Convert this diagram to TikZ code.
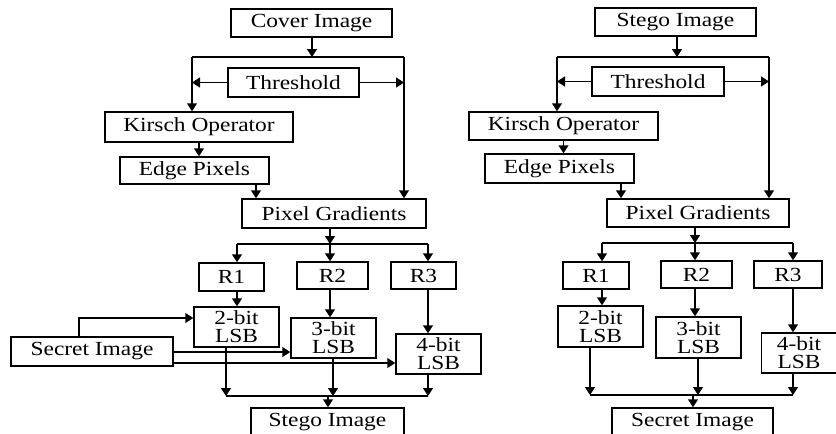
\documentclass[tikz,border=0pt]{standalone}
\usepackage{fontspec}
\setmainfont[FakeStretch=1.17]{Liberation Serif}
\usetikzlibrary{arrows.meta}
\begin{document}
\begin{tikzpicture}[x=1pt,y=-1pt,
  box/.style={draw, line width=1.5pt, inner sep=0pt, align=center,
    font=\fontsize{20}{18}\selectfont},
  arr/.style={-{Triangle[width=10pt,length=8pt]}, line width=1.5pt},
  ln/.style={line width=1.5pt}]
\useasboundingbox (0,0) rectangle (836,434);
% ---------------- left diagram ----------------
\node[box, minimum width=161pt, minimum height=28pt] (cov) at (311.5,23) {Cover Image};
\node[box, minimum width=131pt, minimum height=29pt] (thr) at (293.5,82.5) {Threshold};
\node[box, minimum width=188pt, minimum height=30pt] (kir) at (199,127) {Kirsch Operator};
\node[box, minimum width=149pt, minimum height=27pt] (edg) at (194.5,170.5) {Edge Pixels};
\node[box, minimum width=184pt, minimum height=29pt] (pg) at (334,213.5) {Pixel Gradients};
\node[box, minimum width=65pt, minimum height=28pt] (r1) at (231.5,277) {R1};
\node[box, minimum width=71pt, minimum height=27pt] (r2) at (332.5,275.5) {R2};
\node[box, minimum width=65pt, minimum height=27pt] (r3) at (423.5,275.5) {R3};
\node[box, minimum width=85pt, minimum height=40pt] (b2) at (236.5,327) {2-bit\\LSB};
\node[box, minimum width=85pt, minimum height=40pt] (b3) at (333.5,338) {3-bit\\LSB};
\node[box, minimum width=85pt, minimum height=40pt] (b4) at (438.5,354) {4-bit\\LSB};
\node[box, minimum width=162pt, minimum height=29pt] (sec) at (92,351.5) {Secret Image};
\node[box, minimum width=153pt, minimum height=29pt] (stg) at (327.5,422.5) {Stego Image};

\coordinate (j1) at (312,57);
\coordinate (jl) at (192,57);
\coordinate (jr) at (404,57);
\draw[arr] (cov.south -| j1) -- (j1);
\draw[ln] (jl) -- (jr);
\draw[arr] (jl) -- (jl |- kir.north);
\draw[arr] (jr) -- (jr |- pg.north);
\draw[arr] (thr.west) -- (thr.west -| jl);
\draw[arr] (thr.east) -- (thr.east -| jr);
\draw[arr] (kir.south) -- (kir.south |- edg.north);
\draw[arr] ([xshift=61.5pt]edg.south) -- ([xshift=61.5pt]edg.south |- pg.north);

\coordinate (j2) at (330,244);
\coordinate (ja) at (237,244);
\coordinate (jb) at (428,244);
\draw[arr] (pg.south -| j2) -- (j2);
\draw[ln] (ja) -- (jb);
\draw[arr] (ja) -- (ja |- r1.north);
\draw[arr] (j2) -- (j2 |- r2.north);
\draw[arr] (jb) -- (jb |- r3.north);
\draw[arr] (r1.south -| ja) -- (b2.north -| ja);
\draw[arr] (r2.south -| j2) -- (b3.north -| j2);
\draw[arr] (r3.south -| jb) -- (b4.north -| jb);

\coordinate (s1) at (79,318);
\coordinate (s2) at (173,352);
\coordinate (s3) at (173,363);
\draw[arr] (sec.north -| s1) -- (s1) -- (b2.west |- s1);
\draw[arr] (sec.east |- s2) -- (b3.west |- s2);
\draw[arr] (sec.east |- s3) -- (b4.west |- s3);

\coordinate (k1) at (226,396);
\coordinate (k2) at (333,396);
\coordinate (k3) at (428,396);
\coordinate (k0) at (328,396);
\draw[arr] (b2.south -| k1) -- (k1);
\draw[arr] (b3.south -| k2) -- (k2);
\draw[arr] (b4.south -| k3) -- (k3);
\draw[ln] (k1) -- (k3);
\draw[arr] (k0) -- (k0 |- stg.north);

% ---------------- right diagram ----------------
\node[box, minimum width=161pt, minimum height=28pt] (cov2) at (675.5,22) {Stego Image};
\node[box, minimum width=132pt, minimum height=29pt] (thr2) at (658,81.5) {Threshold};
\node[box, minimum width=189pt, minimum height=28pt] (kir2) at (563.5,126) {Kirsch Operator};
\node[box, minimum width=149pt, minimum height=29pt] (edg2) at (559.5,168.5) {Edge Pixels};
\node[box, minimum width=182pt, minimum height=28pt] (pg2) at (698,213) {Pixel Gradients};
\node[box, minimum width=66pt, minimum height=27pt] (q1) at (596,275.5) {R1};
\node[box, minimum width=71pt, minimum height=27pt] (q2) at (696.5,274.5) {R2};
\node[box, minimum width=68pt, minimum height=27pt] (q3) at (788,274.5) {R3};
\node[box, minimum width=85pt, minimum height=41pt] (c2) at (600.5,326.5) {2-bit\\LSB};
\node[box, minimum width=85pt, minimum height=41pt] (c3) at (698.5,337.5) {3-bit\\LSB};
\node[box, minimum width=75pt, minimum height=40pt] (c4) at (799,353) {4-bit\\LSB};
\node[box, minimum width=161pt, minimum height=29pt] (sec2) at (692.5,422.5) {Secret Image};

\coordinate (m1) at (677,57);
\coordinate (ml) at (557,57);
\coordinate (mr) at (769,57);
\draw[arr] (cov2.south -| m1) -- (m1);
\draw[ln] (ml) -- (mr);
\draw[arr] (ml) -- (ml |- kir2.north);
\draw[arr] (mr) -- (mr |- pg2.north);
\draw[arr] (thr2.west) -- (thr2.west -| ml);
\draw[arr] (thr2.east) -- (thr2.east -| mr);
\draw[arr] (kir2.south) -- (kir2.south |- edg2.north);
\draw[arr] ([xshift=61.5pt]edg2.south) -- ([xshift=61.5pt]edg2.south |- pg2.north);

\coordinate (m2) at (695,243);
\coordinate (ma) at (602,243);
\coordinate (mb) at (793,243);
\draw[arr] (pg2.south -| m2) -- (m2);
\draw[ln] (ma) -- (mb);
\draw[arr] (ma) -- (ma |- q1.north);
\draw[arr] (m2) -- (m2 |- q2.north);
\draw[arr] (mb) -- (mb |- q3.north);
\draw[arr] (q1.south -| ma) -- (c2.north -| ma);
\draw[arr] (q2.south -| m2) -- (c3.north -| m2);
\draw[arr] (q3.south -| mb) -- (c4.north -| mb);

\coordinate (n1) at (590,395);
\coordinate (n2) at (698,395);
\coordinate (n3) at (793,395);
\coordinate (n0) at (693,395);
\draw[arr] (c2.south -| n1) -- (n1);
\draw[arr] (c3.south -| n2) -- (n2);
\draw[arr] (c4.south -| n3) -- (n3);
\draw[ln] (n1) -- (n3);
\draw[arr] (n0) -- (n0 |- sec2.north);
\end{tikzpicture}
\end{document}
